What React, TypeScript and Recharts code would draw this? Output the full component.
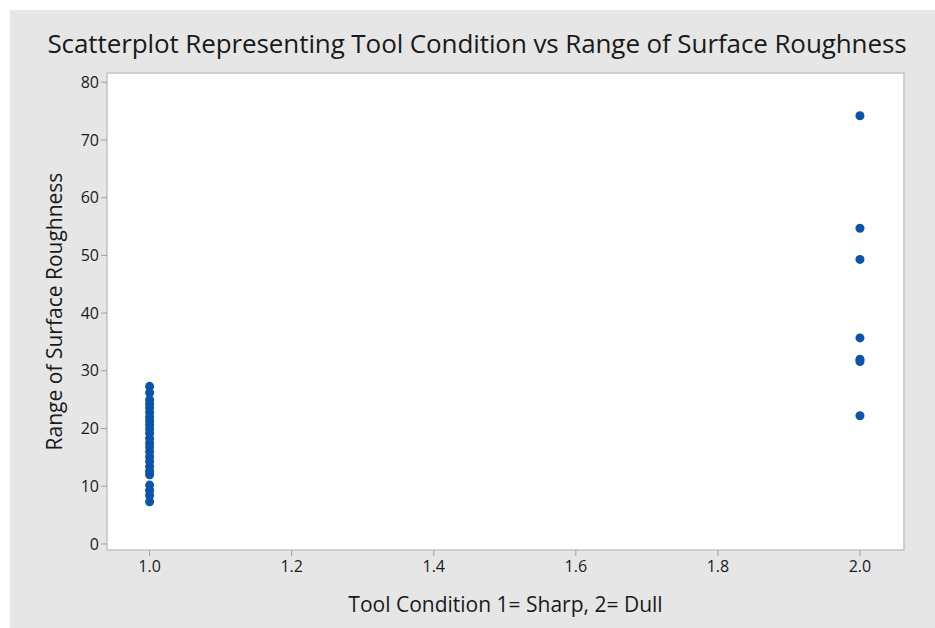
import {
  Label,
  ReferenceArea,
  Scatter,
  ScatterChart,
  XAxis,
  YAxis,
  ZAxis,
} from "recharts";

// Tool condition 1 = sharp, 2 = dull
const sharpRoughness = [
  27.3, 26.2, 25.0, 24.3, 23.6, 22.8, 22.0, 21.3, 20.6, 19.9, 19.2, 18.3,
  17.5, 16.8, 16.0, 15.1, 14.3, 13.4, 12.6, 12.0, 10.2, 9.3, 8.4, 7.3,
];
const dullRoughness = [74.2, 54.7, 49.3, 35.7, 32.0, 31.6, 22.2];

const xTicks = [1.0, 1.2, 1.4, 1.6, 1.8, 2.0];
const yTicks = [0, 10, 20, 30, 40, 50, 60, 70, 80];

const points = [
  ...sharpRoughness.map((r) => ({ condition: 1, roughness: r })),
  ...dullRoughness.map((r) => ({ condition: 2, roughness: r })),
];

const FONT = "'Open Sans', 'Noto Sans', sans-serif";
const X_DOMAIN: [number, number] = [0.94, 2.062];
const Y_DOMAIN: [number, number] = [-1.05, 81.6];

export default function App() {
  return (
    <div
      style={{
        position: "absolute",
        left: 0,
        top: 0,
        width: 935,
        height: 628,
        background: "#ffffff",
        fontFamily: FONT,
        overflow: "hidden",
      }}
    >
      <div
        style={{
          position: "absolute",
          left: 10,
          top: 10,
          width: 925,
          height: 618,
          background: "#e6e6e6",
        }}
      >
        <div
          style={{
            position: "absolute",
            left: 6,
            top: 15,
            width: 922,
            textAlign: "center",
            fontSize: 26,
            color: "#1a1a1a",
            whiteSpace: "nowrap",
            letterSpacing: -0.1,
          }}
        >
          Scatterplot Representing Tool Condition vs Range of Surface Roughness
        </div>
        <ScatterChart
          width={925}
          height={618}
          margin={{ top: 63, right: 31, bottom: 0, left: 0 }}
          style={{ position: "absolute", left: 0, top: 0 }}
        >
          <XAxis
            type="number"
            dataKey="condition"
            domain={X_DOMAIN}
            ticks={xTicks}
            tickFormatter={(v: number) => v.toFixed(1)}
            allowDataOverflow
            height={78}
            axisLine={false}
            tickSize={6}
            tickMargin={5}
            tickLine={{ stroke: "#a0a0a0" }}
            tick={{ fill: "#1a1a1a", fontSize: 16, fontFamily: FONT }}
          >
            <Label
              value="Tool Condition 1= Sharp, 2= Dull"
              position="insideBottom"
              offset={16}
              style={{ fill: "#1a1a1a", fontSize: 21, fontFamily: FONT }}
            />
          </XAxis>
          <YAxis
            type="number"
            dataKey="roughness"
            domain={Y_DOMAIN}
            ticks={yTicks}
            allowDataOverflow
            width={97}
            axisLine={false}
            tickSize={6}
            tickMargin={2}
            tickLine={{ stroke: "#a0a0a0" }}
            tick={{ fill: "#1a1a1a", fontSize: 16, fontFamily: FONT }}
          >
            <Label
              value="Range of Surface Roughness"
              position="center"
              angle={-90}
              dx={-4}
              style={{ fill: "#1a1a1a", fontSize: 21, fontFamily: FONT, textAnchor: "middle" }}
            />
          </YAxis>
          <ZAxis range={[112, 112]} />
          <ReferenceArea
            x1={X_DOMAIN[0]}
            x2={X_DOMAIN[1]}
            y1={Y_DOMAIN[0]}
            y2={Y_DOMAIN[1]}
            fill="#ffffff"
            fillOpacity={1}
            stroke="#c4c4c4"
            strokeWidth={1.5}
            ifOverflow="visible"
          />
          <Scatter
            data={points}
            fill="#0b55a8"
            shape="circle"
            isAnimationActive={false}
          />
        </ScatterChart>
      </div>
    </div>
  );
}
